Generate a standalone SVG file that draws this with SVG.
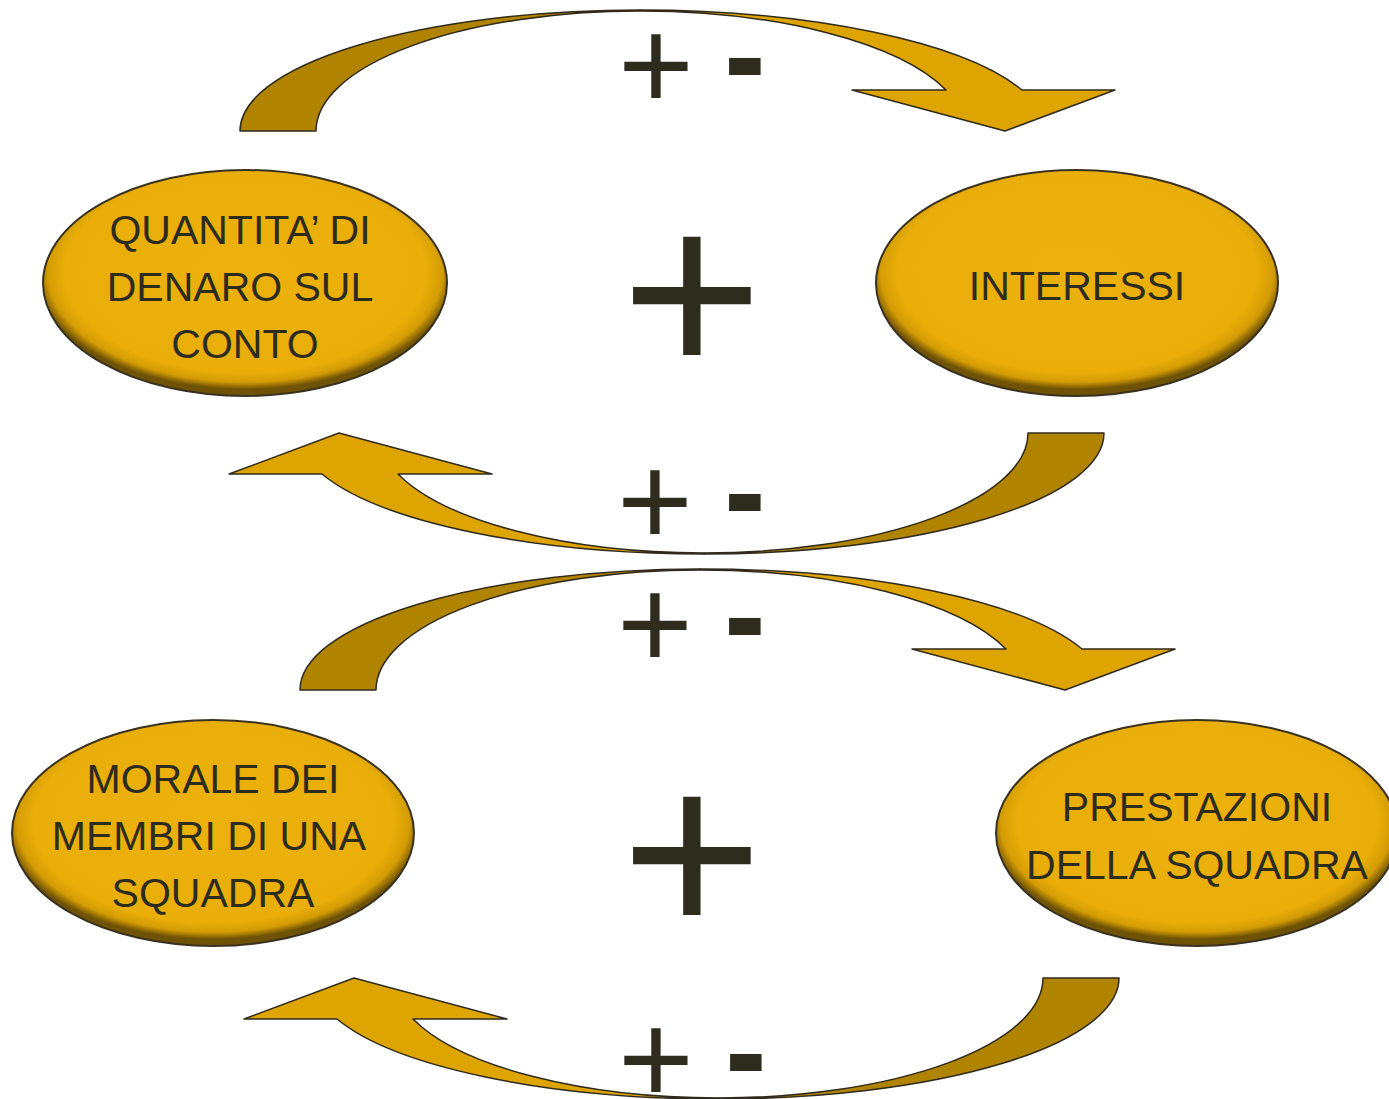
<svg xmlns="http://www.w3.org/2000/svg" xmlns:xlink="http://www.w3.org/1999/xlink" width="1389" height="1099" viewBox="0 0 1389 1099">
<style>
  .lbl { font-family: "Liberation Sans", Arial, sans-serif; font-size: 41px; fill: #2E2B1F; text-anchor: middle; }
  .sign { font-family: "Liberation Sans", Arial, sans-serif; fill: #2E2B1F; text-anchor: middle; }
  .node { fill: url(#gold); stroke: #3A3120; stroke-width: 2; }
  .dark { fill: #B08300; stroke: #2F2A1D; stroke-width: 1.5; stroke-linejoin: round; }
  .light { fill: #DEA502; stroke: #2F2A1D; stroke-width: 1.5; stroke-linejoin: round; }
</style>
<defs>
  <radialGradient id="gold" cx="0.5" cy="0.45" r="0.52">
    <stop offset="0" stop-color="#ECB10C"/>
    <stop offset="0.86" stop-color="#E9AE0A"/>
    <stop offset="0.94" stop-color="#D39C04"/>
    <stop offset="1" stop-color="#6E5205"/>
  </radialGradient>
  <g id="curvedArrow">
    <path class="dark" d="M240,131 A400,121 0 0 1 640,10 L640,11 A324,120 0 0 0 316,131 Z"/>
    <path class="light" d="M640,10 A406,121 0 0 1 1022,90 L1115,90 L1005,131 L852,90 L946,90 A325.6,120 0 0 0 640,11 Z"/>
  </g>
</defs>
<rect width="1389" height="1099" fill="#FFFFFF"/>

<g id="connectors">
  <use xlink:href="#curvedArrow" href="#curvedArrow"/>
  <use xlink:href="#curvedArrow" href="#curvedArrow" transform="rotate(180 672 282)"/>
  <use xlink:href="#curvedArrow" href="#curvedArrow" transform="translate(60 559)"/>
  <use xlink:href="#curvedArrow" href="#curvedArrow" transform="translate(15 545) rotate(180 672 282)"/>
</g>

<g id="signs">
  <text class="sign" x="656" y="109" font-size="130">+</text>
  <text class="sign" font-size="124" font-weight="bold" transform="translate(745 68) scale(1 1.15)" x="0" y="31">-</text>
  <text class="sign" x="655" y="545" font-size="130">+</text>
  <text class="sign" font-size="124" font-weight="bold" transform="translate(745 504) scale(1 1.15)" x="0" y="31">-</text>
  <text class="sign" x="655" y="668" font-size="130">+</text>
  <text class="sign" font-size="124" font-weight="bold" transform="translate(745 628) scale(1 1.15)" x="0" y="31">-</text>
  <text class="sign" x="656" y="1103" font-size="130">+</text>
  <text class="sign" font-size="124" font-weight="bold" transform="translate(746 1064) scale(1 1.15)" x="0" y="31">-</text>
  <text class="sign" x="692" y="376" font-size="242">+</text>
  <text class="sign" x="692" y="936" font-size="242">+</text>
</g>

<g id="node-quantita">
  <ellipse class="node" cx="245" cy="283" rx="202" ry="113"/>
  <text class="lbl" x="240" y="244">QUANTITA’ DI</text>
  <text class="lbl" x="240" y="301">DENARO SUL</text>
  <text class="lbl" x="245" y="358">CONTO</text>
</g>
<g id="node-interessi">
  <ellipse class="node" cx="1077" cy="283" rx="201" ry="113"/>
  <text class="lbl" x="1077" y="300">INTERESSI</text>
</g>
<g id="node-morale">
  <ellipse class="node" cx="213" cy="833" rx="201" ry="113"/>
  <text class="lbl" x="213" y="793">MORALE DEI</text>
  <text class="lbl" x="209" y="850">MEMBRI DI UNA</text>
  <text class="lbl" x="213" y="907">SQUADRA</text>
</g>
<g id="node-prestazioni">
  <ellipse class="node" cx="1197" cy="833" rx="201" ry="113"/>
  <text class="lbl" x="1197" y="821">PRESTAZIONI</text>
  <text class="lbl" x="1197" y="879">DELLA SQUADRA</text>
</g>
</svg>
